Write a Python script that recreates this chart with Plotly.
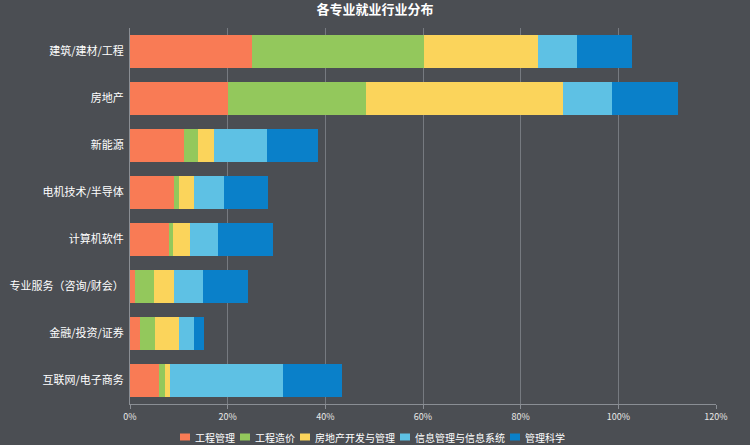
import plotly.graph_objects as go

categories = ["建筑/建材/工程", "房地产", "新能源", "电机技术/半导体", "计算机软件",
              "专业服务（咨询/财会）", "金融/投资/证券", "互联网/电子商务"]
series_names = ["工程管理", "工程造价", "房地产开发与管理", "信息管理与信息系统", "管理科学"]
v_gcgl = [25, 20, 11, 9, 8, 1, 2, 6]
v_gczj = [35.2, 28.3, 3, 1.1, 0.9, 4, 3.2, 1.2]
v_fdc = [23.4, 40.4, 3.1, 3.1, 3.3, 4, 4.9, 0.9]
v_xx = [8, 10.1, 11, 6, 5.9, 6, 3, 23.2]
v_glkx = [11.1, 13.4, 10.3, 9, 11.1, 9.2, 2, 12.1]
values = [v_gcgl, v_gczj, v_fdc, v_xx, v_glkx]
colors = ["#f97b55", "#93c85c", "#fbd45b", "#5ec1e4", "#0a80c9"]

W, H = 750, 445
ML, MR, MT, MB = 130, 34, 28, 41
PW, PH = W - ML - MR, H - MT - MB

fig = go.Figure()
for name, vals, c in zip(series_names, values, colors):
    fig.add_trace(go.Bar(
        y=categories, x=vals, name=name, orientation="h",
        marker=dict(color=c, line=dict(width=0)),
        showlegend=False,
    ))

# compact legend (square + text) below the plot
def px_to_paper_x(px):
    return (px - ML) / PW

def px_to_paper_y(py):
    return (H - MB - py) / PH

text_widths = [len(n) * 10 for n in series_names]
x = 180
ly = 437
for name, c, tw in zip(series_names, colors, text_widths):
    fig.add_shape(type="rect", xref="paper", yref="paper",
                  x0=px_to_paper_x(x), x1=px_to_paper_x(x + 10),
                  y0=px_to_paper_y(ly + 3.5), y1=px_to_paper_y(ly - 3.5),
                  fillcolor=c, line=dict(width=0))
    fig.add_annotation(xref="paper", yref="paper",
                       x=px_to_paper_x(x + 13), y=px_to_paper_y(ly),
                       xanchor="left", yanchor="middle", showarrow=False,
                       text=name, font=dict(size=10, color="#ffffff"))
    x += 10 + 3 + tw + 7

bg = "#4b4e53"
fig.update_layout(
    barmode="stack",
    bargap=0.3,
    width=W, height=H,
    paper_bgcolor=bg, plot_bgcolor=bg,
    margin=dict(l=ML, r=MR, t=MT, b=MB, autoexpand=False),
    font=dict(family="Noto Sans CJK SC, sans-serif", color="#ffffff", size=10),
    title=dict(text="<b>各专业就业行业分布</b>", x=0.5, xanchor="center",
               y=0.979, yanchor="middle", yref="container",
               font=dict(size=13, color="#ffffff")),
    xaxis=dict(range=[0, 120], dtick=20, ticksuffix="%",
               showgrid=True, gridcolor="#767a80", gridwidth=1,
               showline=True, linecolor="#8a8e94", linewidth=1,
               ticks="outside", ticklen=4, tickcolor="#8a8e94",
               tickfont=dict(size=9, color="#e8e8e8"), zeroline=False,
               automargin=False, fixedrange=True),
    yaxis=dict(categoryorder="array", categoryarray=categories[::-1],
               showline=True, linecolor="#8a8e94", linewidth=1,
               ticks="", tickfont=dict(size=11, color="#ffffff"),
               ticklabelstandoff=3, automargin=False, fixedrange=True),
    showlegend=False,
)

fig.write_html("out.html", config={"displayModeBar": False},
               post_script="document.body.style.margin='0';document.body.style.background='#4b4e53';")
